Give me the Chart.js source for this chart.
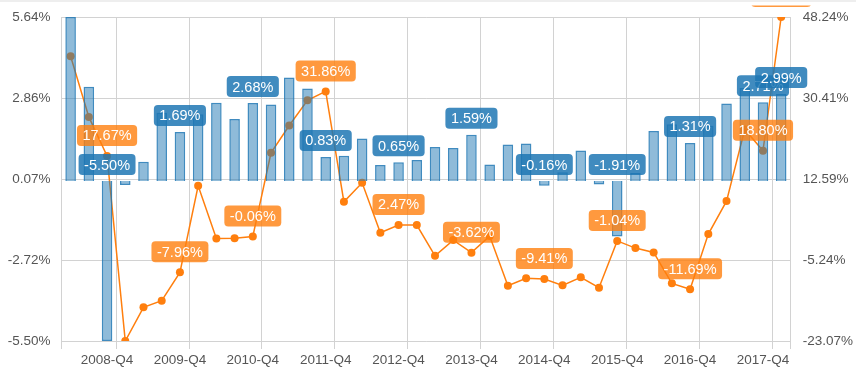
<!DOCTYPE html>
<html>
<head>
<meta charset="utf-8">
<script src="https://cdn.jsdelivr.net/npm/chart.js@4.4.1/dist/chart.umd.min.js"></script>
<style>
  html, body { margin: 0; padding: 0; background: #fff; }
  .wrap { position: relative; width: 856px; height: 376px; }
  .topline { position: absolute; left: 0; top: 0; width: 856px; height: 2px; background: #eeeeee; }
</style>
</head>
<body>
<div class="wrap">
  <canvas id="chart" width="856" height="376"></canvas>
  <div class="topline"></div>
</div>
<script>
const quarters = [
  "2008-Q2", "2008-Q3", "2008-Q4",
  "2009-Q1", "2009-Q2", "2009-Q3", "2009-Q4",
  "2010-Q1", "2010-Q2", "2010-Q3", "2010-Q4",
  "2011-Q1", "2011-Q2", "2011-Q3", "2011-Q4",
  "2012-Q1", "2012-Q2", "2012-Q3", "2012-Q4",
  "2013-Q1", "2013-Q2", "2013-Q3", "2013-Q4",
  "2014-Q1", "2014-Q2", "2014-Q3", "2014-Q4",
  "2015-Q1", "2015-Q2", "2015-Q3", "2015-Q4",
  "2016-Q1", "2016-Q2", "2016-Q3", "2016-Q4",
  "2017-Q1", "2017-Q2", "2017-Q3", "2017-Q4",
  "2018-Q1"
];

// bars, left axis (%)
const barValues = [
  5.64, 3.24, -5.50,
  -0.14, 0.66, 2.35, 1.69,
  2.30, 2.69, 2.13, 2.68,
  2.63, 3.56, 3.18, 0.83,
  0.87, 1.46, 0.55, 0.65,
  0.72, 1.17, 1.14, 1.59,
  0.57, 1.26, 1.29, -0.16,
  0.30, 1.05, -0.12, -1.91,
  0.28, 1.72, 1.95, 1.31,
  1.90, 2.67, 3.20, 2.71,
  2.99
];

// line, right axis (%)
const lineValues = [
  39.60, 26.25, 17.67,
  -23.07, -15.66, -14.20, -7.96,
  11.08, -0.49, -0.45, -0.06,
  18.34, 24.36, 29.92, 31.86,
  7.56, 11.74, 0.75, 2.47,
  2.44, -4.31, -0.86, -3.62,
  0.02, -10.91, -9.28, -9.41,
  -10.82, -9.06, -11.35, -1.04,
  -2.62, -3.57, -10.38, -11.69,
  0.46, 7.72, 23.50, 18.80,
  48.24
];

const leftTickLabels = ["-5.50%", "-2.72%", "0.07%", "2.86%", "5.64%"];
const rightTickLabels = ["-23.07%", "-5.24%", "12.59%", "30.41%", "48.24%"];

const FONT = '"Liberation Sans", Arial, Helvetica, sans-serif';
const GRID = "#d2d2d2";

function evenTicks(scale) {
  const n = 4;
  const ticks = [];
  for (let i = 0; i <= n; i++) ticks.push({ value: scale.min + (scale.max - scale.min) * i / n });
  scale.ticks = ticks;
}

function boxPath(ctx, x, y, w, h, r) {
  ctx.beginPath();
  ctx.moveTo(x + r, y);
  ctx.lineTo(x + w - r, y);
  ctx.quadraticCurveTo(x + w, y, x + w, y + r);
  ctx.lineTo(x + w, y + h - r);
  ctx.quadraticCurveTo(x + w, y + h, x + w - r, y + h);
  ctx.lineTo(x + r, y + h);
  ctx.quadraticCurveTo(x, y + h, x, y + h - r);
  ctx.lineTo(x, y + r);
  ctx.quadraticCurveTo(x, y, x + r, y);
  ctx.closePath();
}

// value bubbles for every Q4 and for the last quarter
const valueLabels = {
  id: "valueLabels",
  afterDatasetsDraw(chart) {
    const ctx = chart.ctx;
    const zeroY = chart.scales.y.getPixelForValue(0);
    ctx.save();
    ctx.beginPath();
    ctx.rect(0, 5.5, chart.width, chart.height);
    ctx.clip();
    ctx.font = "14.5px " + FONT;
    ctx.textAlign = "center";
    ctx.textBaseline = "middle";
    chart.data.datasets.forEach((ds, di) => {
      const meta = chart.getDatasetMeta(di);
      const isBar = ds.type !== "line";
      meta.data.forEach((el, i) => {
        if (i % 4 !== 2 && i !== ds.data.length - 1) return;
        const v = ds.data[i];
        const text = v.toFixed(2) + "%";
        const w = ctx.measureText(text).width + 11;
        const h = 21;
        let bottom;
        if (isBar) bottom = (v >= 0 ? el.y : zeroY) - 6;
        else bottom = el.y - 10;
        boxPath(ctx, el.x - w / 2, bottom - h, w, h, 4);
        ctx.fillStyle = isBar ? "rgba(31,119,180,0.85)" : "rgba(255,127,14,0.8)";
        ctx.fill();
        ctx.fillStyle = "#ffffff";
        ctx.fillText(text, el.x, bottom - h / 2 + 1);
      });
    });
    ctx.restore();
  }
};

new Chart(document.getElementById("chart"), {
  type: "bar",
  data: {
    labels: quarters,
    datasets: [
      {
        type: "bar",
        data: barValues,
        yAxisID: "y",
        backgroundColor: "rgba(31,119,180,0.5)",
        borderColor: "rgba(31,119,180,0.85)",
        borderWidth: 1.5,
        categoryPercentage: 1,
        barPercentage: 0.58,
        order: 0
      },
      {
        type: "line",
        data: lineValues,
        yAxisID: "y1",
        borderColor: "#ff7f0e",
        backgroundColor: "#ff7f0e",
        borderWidth: 1.5,
        pointRadius: 4,
        pointBorderWidth: 0,
        tension: 0,
        order: 1
      }
    ]
  },
  options: {
    responsive: false,
    animation: false,
    devicePixelRatio: 1,
    layout: { padding: { top: 17, left: 0, right: 0, bottom: 0 } },
    plugins: {
      legend: { display: false },
      tooltip: { enabled: false }
    },
    scales: {
      x: {
        offset: true,
        grid: {
          offset: true,
          tickLength: 8,
          lineWidth: 1,
          color: (c) => (c.index === undefined || c.index === 0 || c.index % 4 === 3) ? GRID : "rgba(0,0,0,0)"
        },
        border: { display: false },
        ticks: {
          autoSkip: false,
          maxRotation: 0,
          padding: 3,
          color: "#555",
          font: { family: FONT, size: 13.5 },
          callback: function (val, i) {
            const l = quarters[i];
            return l.endsWith("Q4") ? l : "";
          }
        },
        afterFit: (s) => { s.height = 35; }
      },
      y: {
        position: "left",
        min: Math.min(...barValues),
        max: Math.max(...barValues),
        afterBuildTicks: evenTicks,
        grid: { color: GRID, drawTicks: false },
        border: { display: false },
        ticks: {
          padding: 11,
          color: "#555",
          font: { family: FONT, size: 13.5 },
          callback: (v, i) => leftTickLabels[i]
        },
        afterFit: (s) => { s.width = 61.5; s.paddingTop = 0; s.paddingBottom = 0; }
      },
      y1: {
        position: "right",
        min: Math.min(...lineValues),
        max: Math.max(...lineValues),
        afterBuildTicks: evenTicks,
        grid: { display: false, drawTicks: false },
        border: { display: false },
        ticks: {
          padding: 12.5,
          color: "#555",
          font: { family: FONT, size: 13.5 },
          callback: (v, i) => rightTickLabels[i]
        },
        afterFit: (s) => { s.width = 65.7; s.paddingTop = 0; s.paddingBottom = 0; }
      }
    }
  },
  plugins: [valueLabels]
});
</script>
</body>
</html>
